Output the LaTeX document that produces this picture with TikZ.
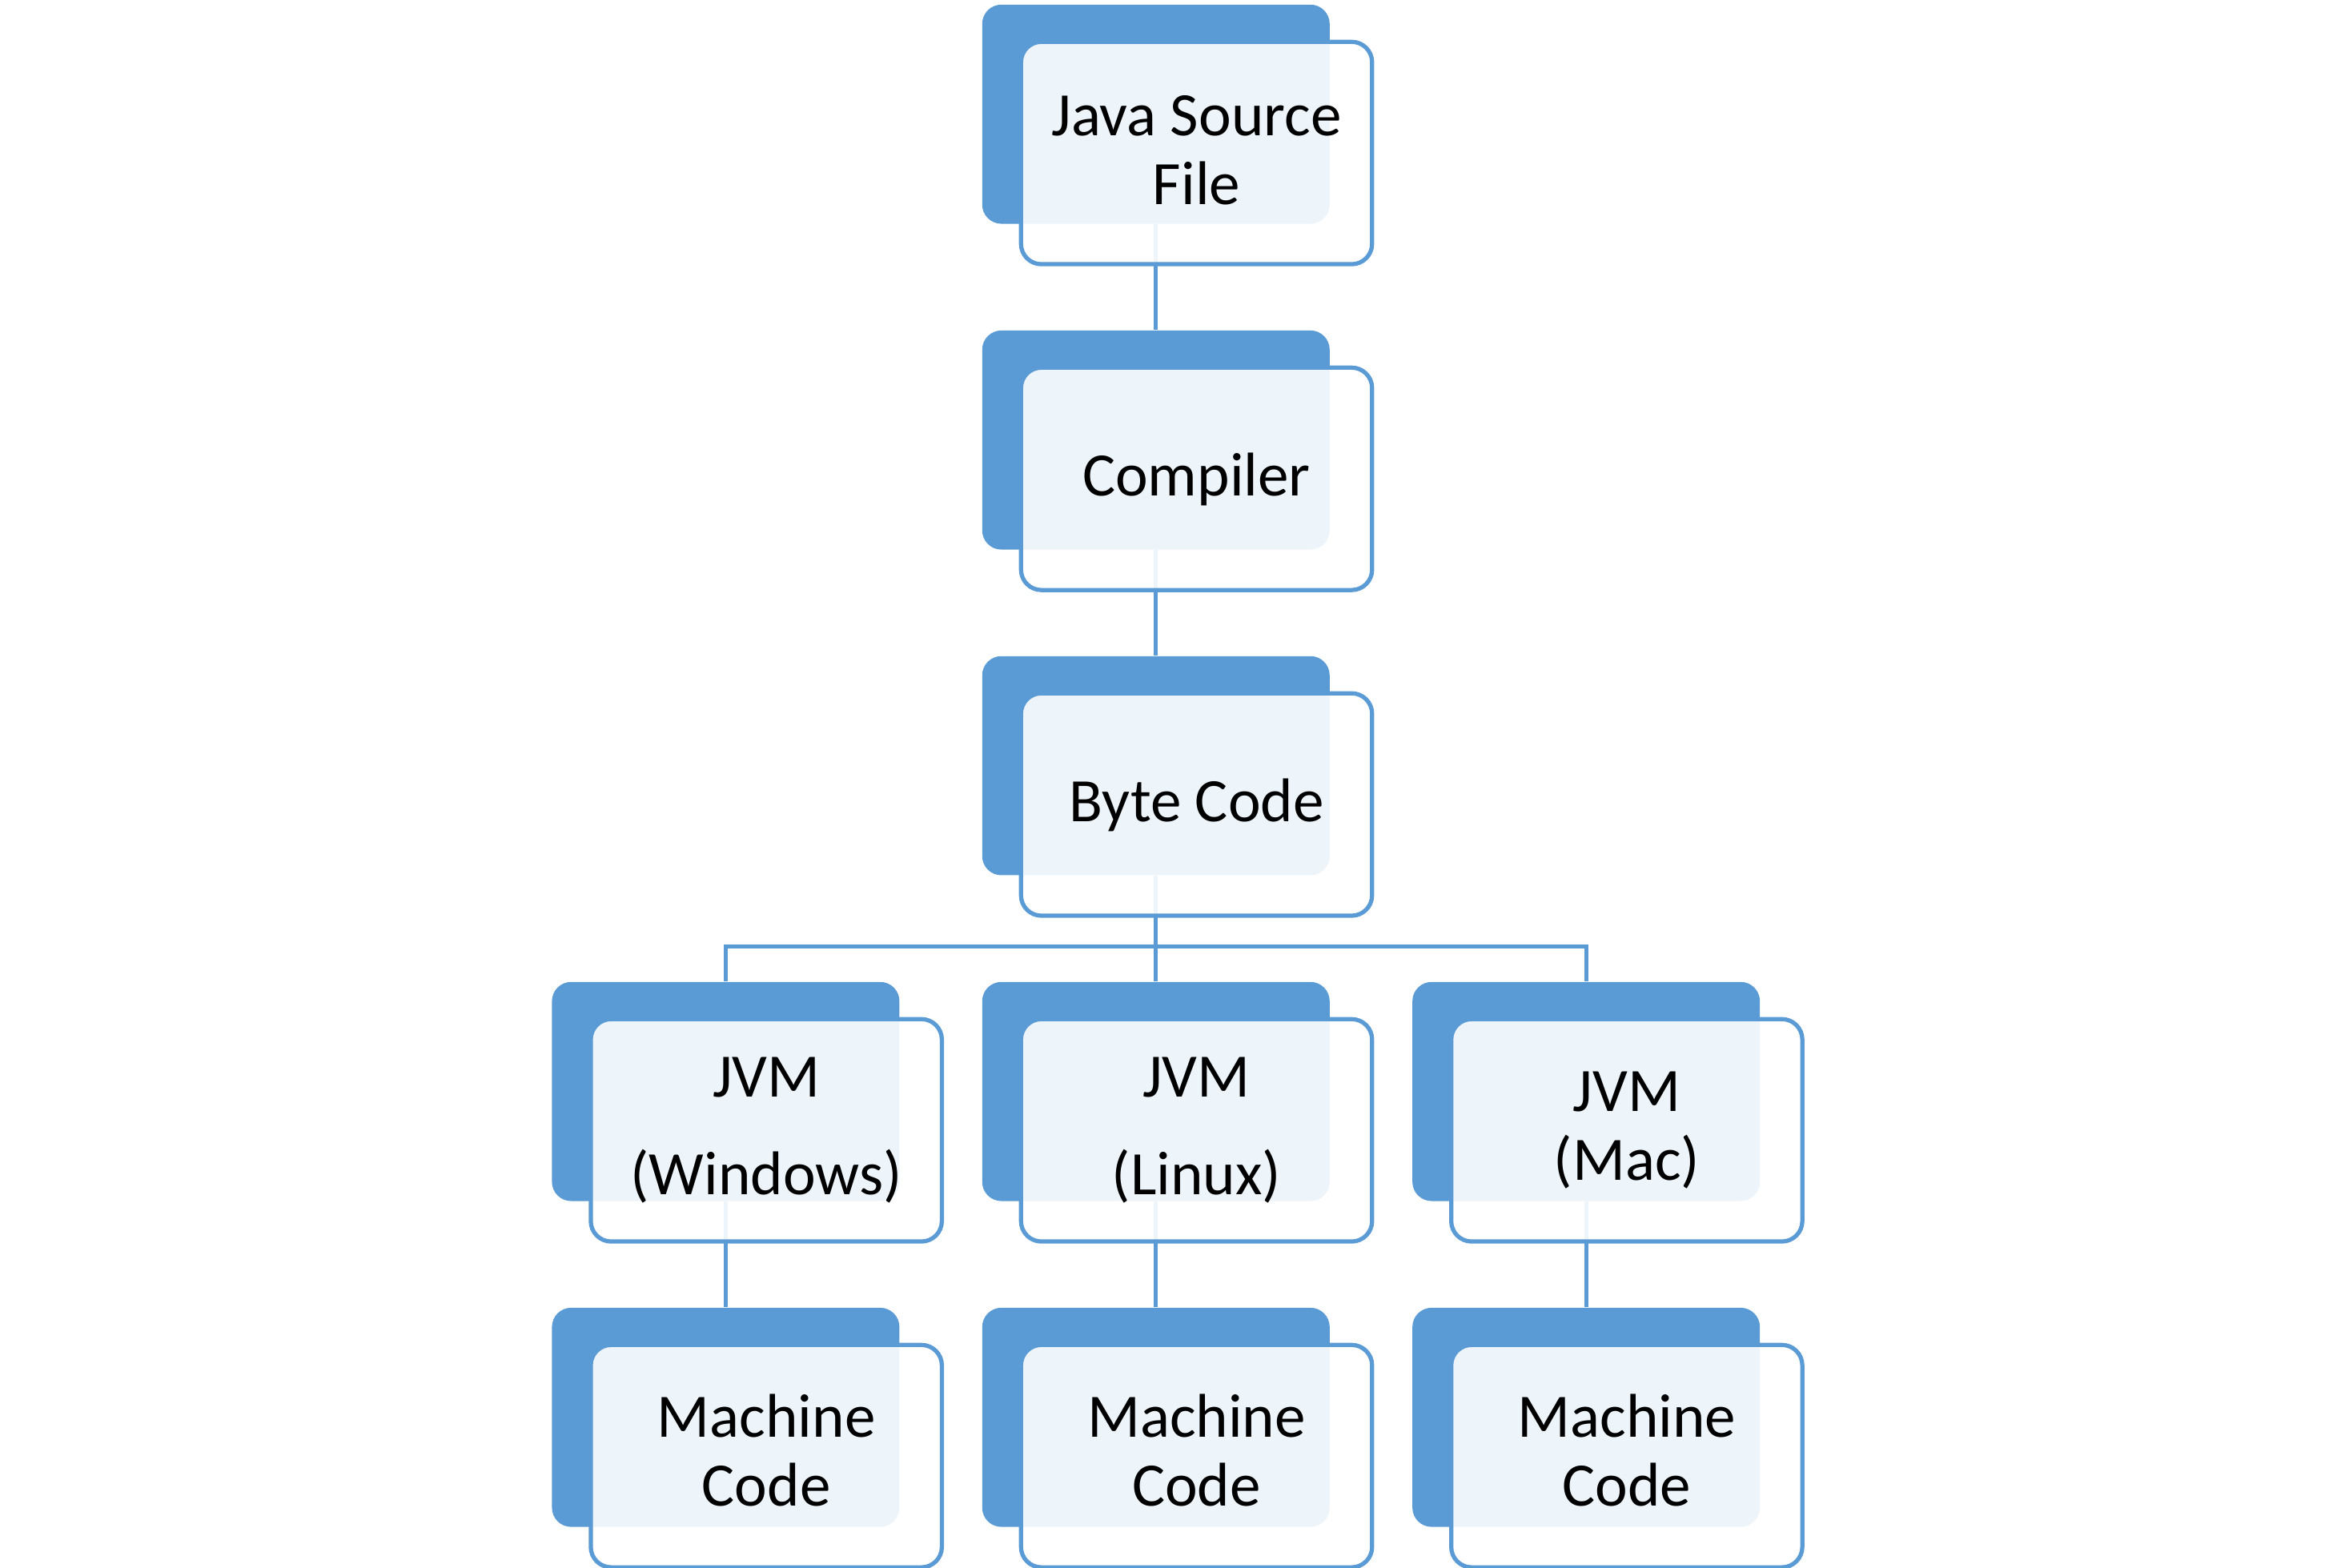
\documentclass[tikz,border=0pt]{standalone}
\usepackage{fontspec}
\setmainfont{Carlito}
\definecolor{boxblue}{HTML}{5B9BD5}
\newcommand{\lowstrut}[1]{\rule[-#1]{0pt}{0pt}}
\begin{document}
\begin{tikzpicture}[x=0.5pt,y=-0.5pt,
  darkbox/.style={rectangle, rounded corners=6.4pt, fill=boxblue, minimum width=115.9pt, minimum height=73.1pt, inner sep=0pt, anchor=north west},
  lightbox/.style={rectangle, rounded corners=6.8pt, fill=white, fill opacity=0.9, text opacity=1, draw=boxblue, line width=1.4pt, minimum width=117.1pt, minimum height=74.2pt, inner sep=0pt, anchor=north west, align=center, font=\fontsize{20.6}{22.8}\selectfont},
  single/.style={text height=13.3pt, text depth=2pt},
  conn/.style={draw=boxblue, line width=1.4pt}]
\useasboundingbox (0,0) rectangle (1567,1046);
% dark back boxes
\node[darkbox] (d1) at (654.8,2.7) {};
\node[darkbox] (d2) at (654.8,220.1) {};
\node[darkbox] (d3) at (654.8,437.4) {};
\node[darkbox] (d4a) at (367.8,654.8) {};
\node[darkbox] (d4b) at (654.8,654.8) {};
\node[darkbox] (d4c) at (941.8,654.8) {};
\node[darkbox] (d5a) at (367.8,872.2) {};
\node[darkbox] (d5b) at (654.8,872.2) {};
\node[darkbox] (d5c) at (941.8,872.2) {};
% connectors
\coordinate (bus) at (770.7,631.5);
\draw[conn] (d1.south) -- (d2.north);
\draw[conn] (d2.south) -- (d3.north);
\draw[conn] (d3.south) -- (d4b.north);
\draw[conn] (d4a.north) |- (bus) -| (d4c.north);
\draw[conn] (d4a.south) -- (d5a.north);
\draw[conn] (d4b.south) -- (d5b.north);
\draw[conn] (d4c.south) -- (d5c.north);
% front boxes
\node[lightbox] (l1) at (679.7,26.5) {Java Source\\File\lowstrut{2pt}};
\node[lightbox,single] (l2) at (679.7,243.9) {Compiler};
\node[lightbox,single] (l3) at (679.7,461.2) {Byte Code};
\node[lightbox] (l4a) at (392.7,678.6) {JVM\\[9.7pt](Windows)};
\node[lightbox] (l4b) at (679.7,678.6) {JVM\\[9.7pt](Linux)};
\node[lightbox] (l4c) at (966.7,678.6) {JVM\\(Mac)};
\node[lightbox] (l5a) at (392.7,896) {Machine\\Code\lowstrut{4pt}};
\node[lightbox] (l5b) at (679.7,896) {Machine\\Code\lowstrut{4pt}};
\node[lightbox] (l5c) at (966.7,896) {Machine\\Code\lowstrut{4pt}};
\end{tikzpicture}
\end{document}
